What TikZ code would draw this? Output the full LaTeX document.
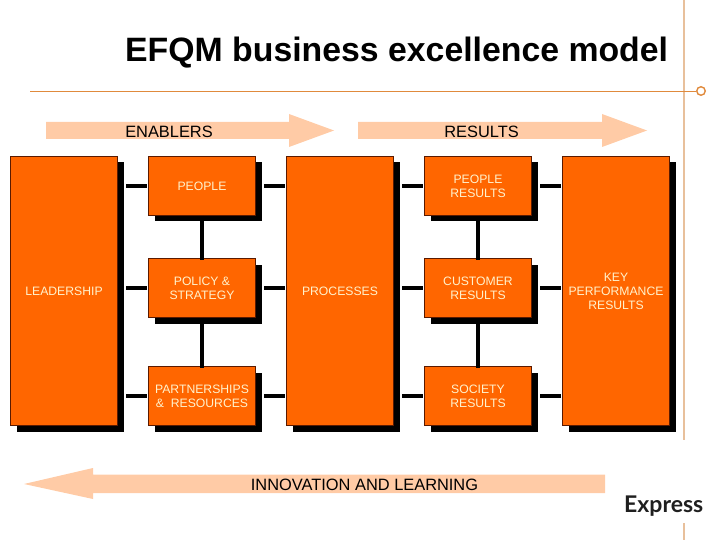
\documentclass[tikz,border=0pt]{standalone}
\usepackage{fontspec}
\setmainfont{Liberation Sans}
\newfontfamily\logofont{Lato}
\usetikzlibrary{shadows}
\definecolor{boxorange}{HTML}{FF6600}
\definecolor{boxedge}{HTML}{5A1A00}
\definecolor{boxtext}{HTML}{FFF2CC}
\definecolor{arrowpeach}{HTML}{FFCBA6}
\definecolor{rulepeach}{HTML}{E8C09C}
\definecolor{ruleorange}{HTML}{E08A3C}
\tikzset{
  box/.style={draw=boxedge,line width=0.8pt,fill=boxorange,text=boxtext,align=center,inner sep=0pt,
    minimum width=107pt,font=\fontsize{12.2}{14}\selectfont,
    execute at begin node={\vspace*{2pt}},
    drop shadow={shadow xshift=6pt,shadow yshift=-6pt,fill=black,opacity=1}},
  tallbox/.style={box,minimum height=269pt},
  smallbox/.style={box,minimum height=59pt},
  link/.style={line width=4.6pt,draw=black},
  band/.style={fill=arrowpeach,draw=none},
  bandlabel/.style={inner sep=0pt,text=black,font=\fontsize{16.4}{18}\selectfont}
}
\begin{document}
\begin{tikzpicture}[x=1pt,y=-1pt]
\useasboundingbox (0,0) rectangle (720,540);
% frame lines
\draw[rulepeach,line width=1.6pt] (684,0) -- (684,440);
\draw[rulepeach,line width=1.6pt] (684,523) -- (684,540);
\coordinate (ruleL) at (30,91);
\node[circle,draw=ruleorange,line width=1.4pt,fill=white,minimum size=8.5pt,inner sep=0pt] (dot) at (701,91) {};
\draw[ruleorange,line width=0.9pt] (ruleL) -- (dot);
% title
\node[anchor=base west,inner sep=0pt,font=\bfseries\fontsize{33.8}{38}\selectfont] (title) at (125,61.5) {EFQM business excellence model};
% band arrows
\fill[band] (46,122) -- (289,122) -- (289,114) -- (334,130.5) -- (289,147) -- (289,139) -- (46,139) -- cycle;
\fill[band] (358,122) -- (602,122) -- (602,114) -- (647,130.5) -- (602,147) -- (602,139) -- (358,139) -- cycle;
\fill[band] (605,474.5) -- (93,474.5) -- (93,468) -- (24,484) -- (93,499) -- (93,493) -- (605,493) -- cycle;
\node[bandlabel,anchor=base] (enablers) at (169,137.2) {ENABLERS};
\node[bandlabel,anchor=base] (results) at (481.5,137.2) {RESULTS};
\node[bandlabel,anchor=base] (innov) at (364.5,490.2) {INNOVATION AND LEARNING};
% boxes
\node[tallbox] (lead) at (64,291) {LEADERSHIP};
\node[smallbox] (people) at (202,186) {PEOPLE};
\node[smallbox] (policy) at (202,288) {POLICY \&\\STRATEGY};
\node[smallbox] (partner) at (202,396) {PARTNERSHIPS\\\&\ \ RESOURCES};
\node[tallbox] (proc) at (340,291) {PROCESSES};
\node[smallbox] (presults) at (478,186) {PEOPLE\\RESULTS};
\node[smallbox] (cresults) at (478,288) {CUSTOMER\\RESULTS};
\node[smallbox] (sresults) at (478,396) {SOCIETY\\RESULTS};
\node[tallbox] (key) at (616,291) {KEY\\PERFORMANCE\\RESULTS};
% horizontal links
\foreach \a/\b/\r in {lead/people/people,lead/policy/policy,lead/partner/partner,
  people/proc/people,policy/proc/policy,partner/proc/partner,
  proc/presults/presults,proc/cresults/cresults,proc/sresults/sresults,
  presults/key/presults,cresults/key/cresults,sresults/key/sresults}
  \draw[link,shorten <=8.5pt,shorten >=1.5pt] (\a.east |- \r.center) -- (\b.west |- \r.center);
% vertical links
\foreach \a/\b in {people/policy,policy/partner,presults/cresults,cresults/sresults}
  \draw[link,line width=4pt,shorten >=-2pt] (\a.south) -- (\b.north);
% logo
\node[anchor=base west,inner sep=0pt,text=black!88,font=\logofont\bfseries\fontsize{23}{26}\selectfont] (logo) at (624,512) {Express};
\end{tikzpicture}
\end{document}
